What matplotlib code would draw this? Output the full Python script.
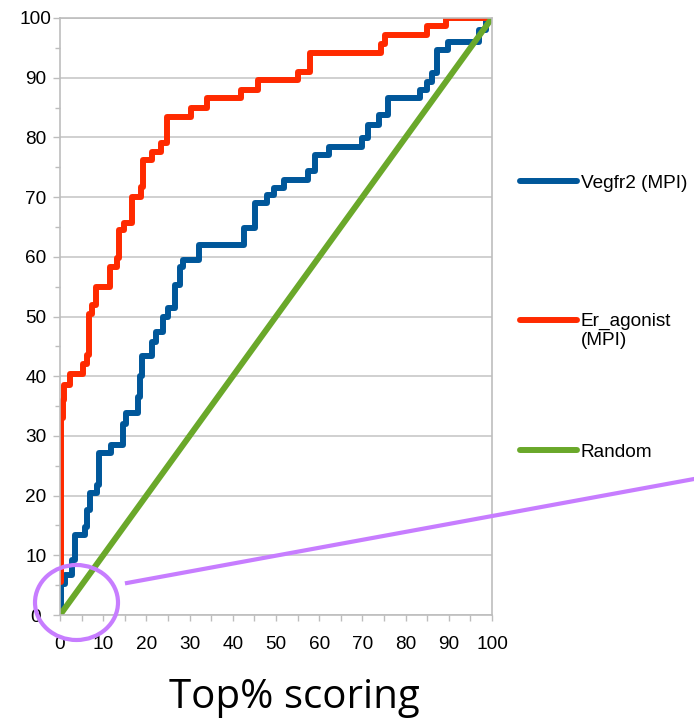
import matplotlib
matplotlib.use("Agg")
import matplotlib.pyplot as plt
from matplotlib.patches import Ellipse
from matplotlib.lines import Line2D
from matplotlib.ticker import MultipleLocator

# curves (x = top % of scoring, y = % actives found), step points
vegfr2_x = [0, 0.3, 1.2, 2.7, 3.5, 5.8, 6.2, 7.0, 8.5, 9.0, 11.8, 14.6, 15.2, 18.0, 18.5,
            19.0, 21.2, 22.3, 23.8, 25.0, 26.6, 27.8, 28.5, 32.2, 42.5, 45.2, 48.0, 49.6,
            51.8, 57.3, 59.0, 62.2, 69.8, 71.3, 73.8, 76.0, 83.4, 85.0, 86.2, 87.3, 89.8,
            97.0, 98.5, 100]
vegfr2_y = [0, 5.2, 6.7, 9.2, 13.4, 14.7, 17.6, 20.4, 21.8, 27.1, 28.5, 32.0, 33.8, 36.5, 40.0,
            43.3, 45.8, 47.4, 50.0, 51.4, 55.3, 58.3, 59.5, 62.0, 64.8, 69.0, 70.4, 71.6,
            72.9, 74.3, 77.1, 78.4, 79.9, 82.1, 83.8, 86.6, 87.9, 89.3, 90.8, 94.6, 96.0,
            98.0, 100, 100]

er_x = [0, 0.2, 0.8, 1.0, 2.2, 5.4, 6.3, 6.8, 7.3, 8.3, 11.6, 13.2, 13.7, 14.9, 16.6, 18.8,
        19.3, 21.2, 23.4, 24.8, 30.4, 34.0, 42.0, 45.8, 55.0, 57.8, 74.3, 75.3, 85.0, 89.3, 100]
er_y = [5.5, 33.0, 36.0, 38.6, 40.4, 42.0, 43.5, 50.5, 52.0, 55.0, 58.3, 59.8, 64.5, 65.6, 70.1,
        71.7, 76.2, 77.5, 79.0, 83.4, 84.9, 86.6, 88.0, 89.6, 91.0, 94.1, 95.6, 97.2, 98.6,
        100, 100]

random_x = [0, 100]
random_y = [0, 100]

labels = ["Vegfr2 (MPI)", "Er_agonist\n(MPI)", "Random"]
colors = ["#00579a", "#ff2a00", "#6aa82a"]

fig = plt.figure(figsize=(6.94, 7.23), dpi=100)
ax = fig.add_axes([60 / 694, 108 / 723, 432 / 694, 597 / 723])

lw = 4.3
l1, = ax.plot(vegfr2_x, vegfr2_y, drawstyle="steps-post", color=colors[0], lw=lw,
              solid_capstyle="round", solid_joinstyle="round")
l2, = ax.plot(er_x, er_y, drawstyle="steps-post", color=colors[1], lw=lw,
              solid_capstyle="round", solid_joinstyle="round")
l3, = ax.plot(random_x, random_y, color=colors[2], lw=lw, solid_capstyle="round")

ax.set_xlim(0, 100)
ax.set_ylim(0, 100)
ax.xaxis.set_major_locator(MultipleLocator(10))
ax.xaxis.set_minor_locator(MultipleLocator(5))
ax.yaxis.set_major_locator(MultipleLocator(10))
ax.yaxis.set_minor_locator(MultipleLocator(5))
ax.grid(axis="y", which="major", color="#c8c8c8", lw=1.2)
ax.set_axisbelow(True)

gray = "#bdbdbd"
for s in ax.spines.values():
    s.set_color(gray)
    s.set_linewidth(1.2)

ax.tick_params(axis="x", which="both", length=4, width=1, color=gray, pad=11)
ax.tick_params(axis="y", which="major", length=5, width=1, color=gray, pad=12.5)
ax.tick_params(axis="y", which="minor", length=3.5, width=1, color=gray)
for t in ax.get_xticklabels() + ax.get_yticklabels():
    t.set_fontfamily("Liberation Sans")
    t.set_fontsize(13.7)
for t in ax.get_yticklabels():
    t.set_horizontalalignment("center")

ax.set_xlabel("Top% scoring", fontfamily="Open Sans", fontsize=29, labelpad=18)
ax.xaxis.label.set_x((294 - 60) / 432)

# legend, one box per entry like the original spacing
legfont = dict(family="Liberation Sans", size=13.7)
ys = [183, 331, 452]
for line, lab, yy in zip([l1, l2, l3], labels, ys):
    leg = fig.legend([line], [lab], loc="center left",
                     bbox_to_anchor=(520 / 694, 1 - yy / 723),
                     frameon=False, prop=legfont, handlelength=3.0,
                     handletextpad=0.2, borderpad=0, borderaxespad=0)
    if "\n" in lab:
        # excel puts the key next to the first text line
        h = leg.legend_handles[0]
        h.set_ydata([v + 8 for v in h.get_ydata()])

# purple highlight around the origin
purple = "#c77dff"
ell = Ellipse((76.5 / 694, 1 - 602.5 / 723), 83 / 694, 75 / 723, transform=fig.transFigure,
              fill=False, edgecolor=purple, lw=3)
fig.add_artist(ell)
fig.add_artist(Line2D([127 / 694, 1.0], [1 - 583 / 723, 1 - 479 / 723],
                      transform=fig.transFigure, color=purple, lw=3))

fig.savefig("out.png", dpi=100)
